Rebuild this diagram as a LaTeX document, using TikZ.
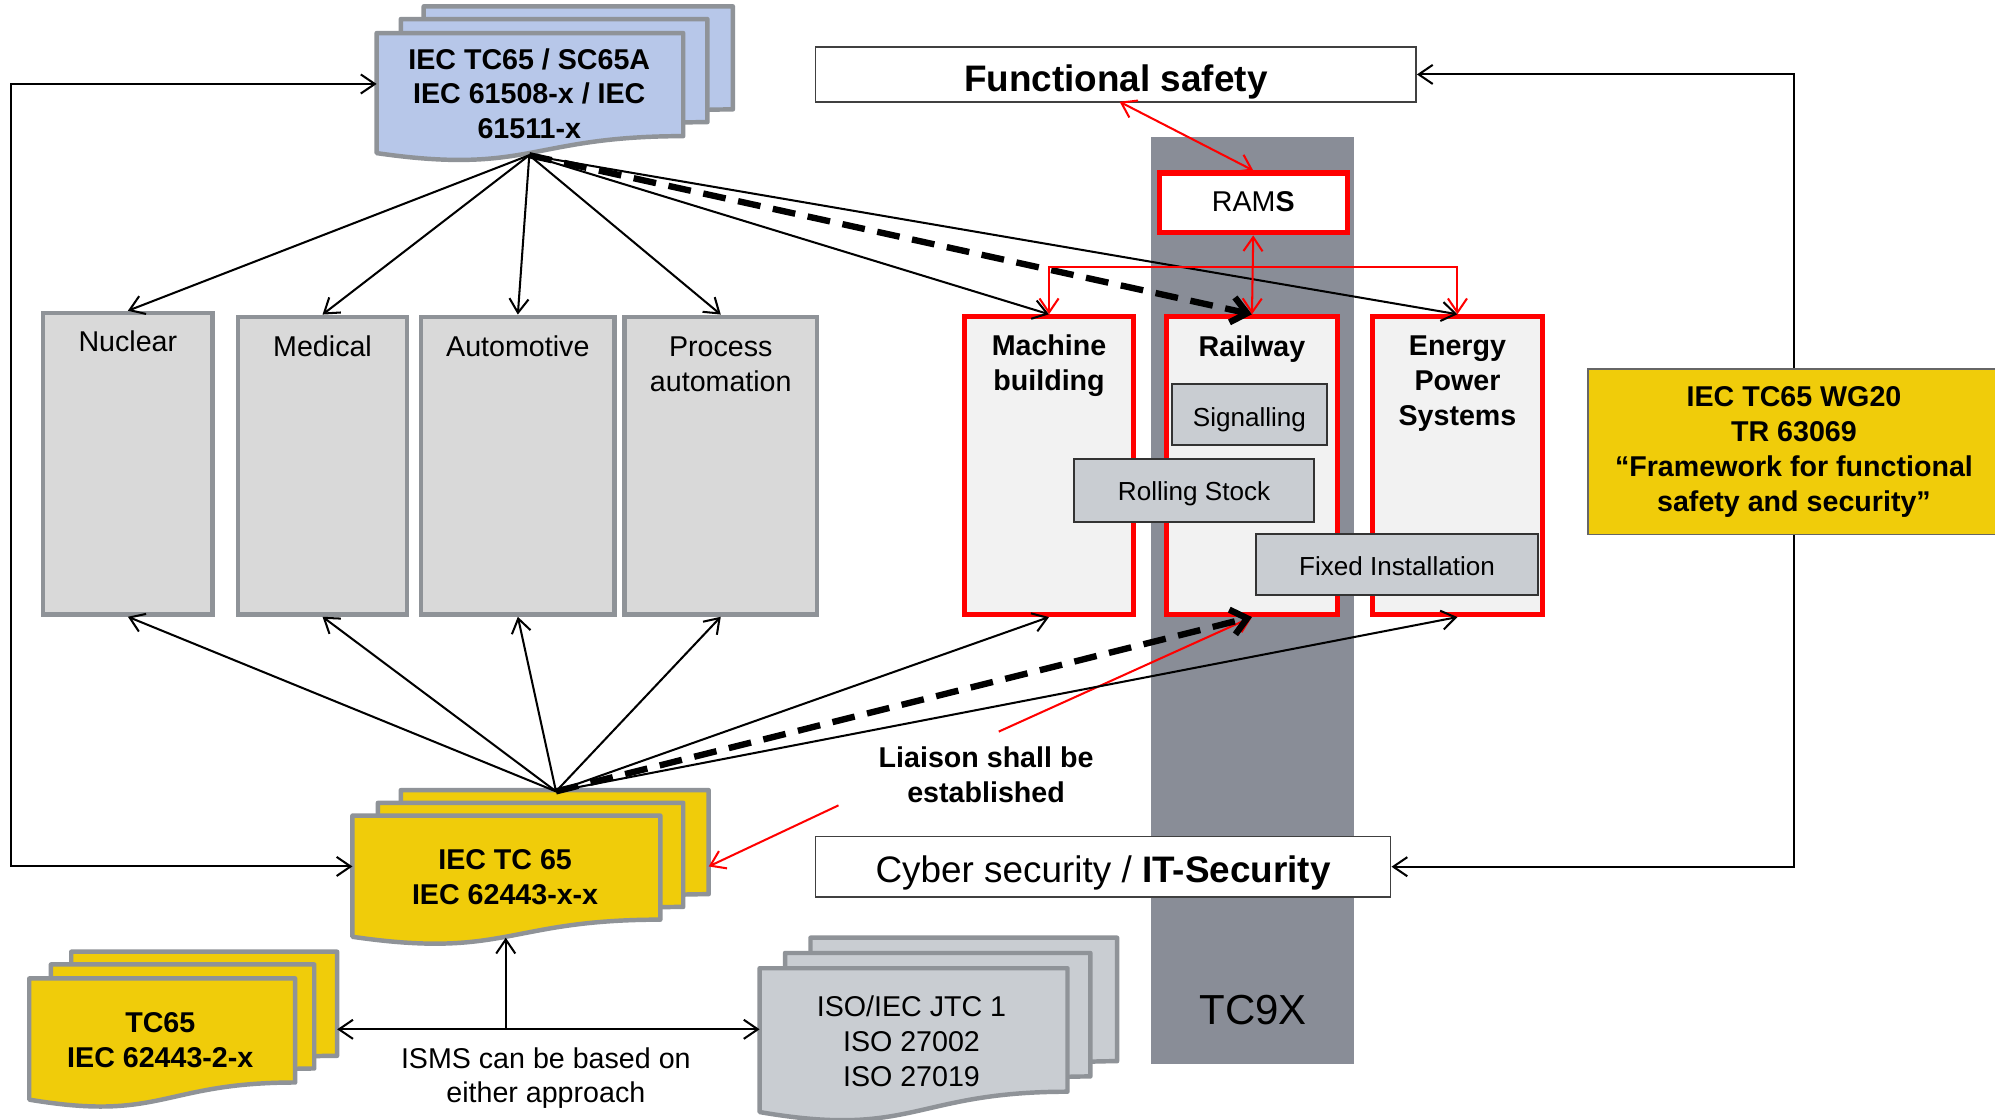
\documentclass[tikz,border=0pt]{standalone}
\usepackage{fontspec}
\setmainfont{Liberation Sans}
\usetikzlibrary{arrows.meta}
\definecolor{docgray}{HTML}{8F9398}
\definecolor{bluefill}{HTML}{B7C7E9}
\definecolor{yel}{HTML}{F0CC0A}
\definecolor{catfill}{HTML}{D9D9D9}
\definecolor{redfill}{HTML}{F2F2F2}
\definecolor{subfill}{HTML}{C9CDD2}
\definecolor{colgray}{HTML}{898D97}
\newcommand\szA{\fontsize{22.5}{27.4}\selectfont}
\newcommand\szS{\fontsize{20.5}{24}\selectfont}
\newcommand\szL{\fontsize{29}{34}\selectfont}
\newcommand\szC{\fontsize{33}{38}\selectfont}
% document shape: #1 style, #2 left, #3 top, #4 width, #5 height
\newcommand\docshp[5]{%
  \path[#1] (#2,#3) -- ({#2+#4},#3) -- ({#2+#4},{#3+0.802*#5})
    .. controls ({#2+0.5*#4},{#3+0.802*#5}) and ({#2+0.5*#4},{#3+1.107*#5}) ..
    (#2,{#3+0.934*#5}) -- cycle;}
\tikzset{
  myv/.tip={Straight Barb[length=11pt,width=15pt]},
  catbox/.style={draw=docgray, fill=catfill, line width=3.5pt, inner sep=0pt},
  redbox/.style={draw=red, fill=redfill, line width=4pt, inner sep=0pt},
  subbox/.style={draw=black!80, fill=subfill, line width=1.5pt, inner sep=0pt},
  plainbox/.style={draw=black!75, fill=white, line width=1.3pt, inner sep=0pt},
  ramsbox/.style={draw=red, fill=white, line width=4pt, inner sep=0pt},
  wgbox/.style={draw=black!60, fill=yel, line width=1pt, inner sep=0pt},
  docline/.style={draw=docgray, line width=3.5pt, line join=round},
  conn/.style={draw=black, line width=1.6pt, -myv},
  rconn/.style={draw=red, line width=1.6pt},
  dconn/.style={draw=black, line width=5pt, dash pattern=on 18pt off 10pt,
     -{Straight Barb[length=12pt,width=20pt]}},
  txt/.style={anchor=base, inner sep=0pt, align=center},
}
\begin{document}
\begin{tikzpicture}[x=1pt,y=-1pt]
\useasboundingbox (0,0) rectangle (1568,880);
\fill[white] (0,0) rectangle (1568,880);

% TC9X column
\node[fill=colgray, minimum width=159pt, minimum height=728pt, inner sep=0pt] (tc9x) at (984.5,472) {};
\node[txt, font=\szC] (tc9xt) at (985,805.3) {TC9X};

% top blue document stack (multi-line texts are placed by the baseline of their last line)
\docshp{docline, fill=bluefill}{333}{5}{243}{101}
\docshp{docline, fill=bluefill}{315}{15}{241}{101}
\docshp{docline, fill=bluefill}{296}{26}{241}{101}
\node[txt, font=\szA\bfseries] (bluet) at (416,109.1) {IEC TC65 / SC65A\\IEC 61508-x / IEC\\61511-x};

% yellow IEC TC 65 document stack
\docshp{docline, fill=yel}{315}{621}{242}{102}
\docshp{docline, fill=yel}{297}{631}{240}{102}
\docshp{docline, fill=yel}{277}{641}{242}{102}
\node[txt, font=\szA\bfseries] (yelt) at (397,711) {IEC TC 65\\IEC 62443-x-x};

% TC65 62443-2-x stack
\docshp{docline, fill=yel}{56}{748}{209}{102}
\docshp{docline, fill=yel}{40}{758}{207}{102}
\docshp{docline, fill=yel}{23}{769}{209}{102}
\node[txt, font=\szA\bfseries] (tc2t) at (126,838.7) {TC65\\IEC 62443-2-x};

% ISO stack
\docshp{docline, fill=subfill}{637}{737}{241}{121}
\docshp{docline, fill=subfill}{617}{749}{240}{121}
\docshp{docline, fill=subfill}{597}{761}{242}{121}
\node[txt, font=\szA] (isot) at (716.4,853.6) {ISO/IEC JTC 1\\ISO 27002\\ISO 27019};

% plain boxes
\node[plainbox, minimum width=472pt, minimum height=43pt] (fs) at (877,58.5) {};
\node[txt, font=\szL\bfseries] (fst) at (877,72.2) {Functional safety};
\node[plainbox, minimum width=452pt, minimum height=47.5pt] (cyb) at (867,681.2) {};
\node[txt, font=\szL] (cybt) at (867,693.7) {Cyber security / \textbf{IT-Security}};

% RAMS
\node[ramsbox, minimum width=148pt, minimum height=47pt] (rams) at (985,159.5) {};
\node[txt, font=\szA] (ramst) at (985,166.2) {RAM\textbf{S}};

% category boxes
\node[catbox, minimum width=133pt, minimum height=237pt] (nuc) at (100.5,364.5) {};
\node[catbox, minimum width=133pt, minimum height=234pt] (med) at (253.5,366) {};
\node[catbox, minimum width=152pt, minimum height=234pt] (aut) at (407,366) {};
\node[catbox, minimum width=151pt, minimum height=234pt] (pro) at (566.5,366) {};
\node[txt, font=\szA] (nuct) at (100.5,276.5) {Nuclear};
\node[txt, font=\szA] (medt) at (253.5,280) {Medical};
\node[txt, font=\szA] (autt) at (407,280) {Automotive};
\node[txt, font=\szA] (prot) at (566.5,307.4) {Process\\automation};

% red sector boxes
\node[redbox, minimum width=133pt, minimum height=234pt] (mac) at (824.5,366) {};
\node[redbox, minimum width=134pt, minimum height=234pt] (rai) at (984,366) {};
\node[redbox, minimum width=133pt, minimum height=234pt] (ene) at (1145.5,366) {};
\node[txt, font=\szA\bfseries] (mact) at (824.5,307.2) {Machine\\building};
\node[txt, font=\szA\bfseries] (rait) at (984,280) {Railway};
\node[txt, font=\szA\bfseries] (enet) at (1145.5,334.6) {Energy\\Power\\Systems};

% sub boxes
\node[subbox, minimum width=122pt, minimum height=48pt] (sig) at (982,326) {};
\node[txt, font=\szS] (sigt) at (982,335) {Signalling};
\node[subbox, minimum width=189pt, minimum height=49pt] (rol) at (938.5,385.5) {};
\node[txt, font=\szS] (rolt) at (938.5,393) {Rolling Stock};
\node[subbox, minimum width=222pt, minimum height=48pt] (fix) at (1098,444) {};
\node[txt, font=\szS] (fixt) at (1098,452.4) {Fixed Installation};

% WG20 box
\node[wgbox, minimum width=324pt, minimum height=130pt] (wg) at (1410,355) {};
\node[txt, font=\fontsize{22.5}{27.6}\selectfont\bfseries] (wgt) at (1410,402)
  {IEC TC65 WG20\\TR 63069\\“Framework for functional\\safety and security”};

% texts
\node[txt, font=\szA\bfseries] (liat) at (775,631) {Liaison shall be\\established};
\node[txt, font=\fontsize{22.5}{27}\selectfont] (ismst) at (429,866.5) {ISMS can be based on\\either approach};

% coordinates
\coordinate (bapex) at (416,122);
\coordinate (yapex) at (437,622);
\coordinate (bluein) at (296,66);
\coordinate (lfttop) at (9,66);
\coordinate (lftbot) at (9,681);
\coordinate (yelin) at (277,681);
\coordinate (tc2r) at (265,809);
\coordinate (isol) at (597,809);
\coordinate (ismsj) at (397.5,809);
\coordinate (yelbot) at (397.5,737);
\coordinate (fsbot) at (880,80);
\coordinate (liaA) at (785,575);
\coordinate (liaB) at (659,633);
\coordinate (yelr) at (557,681);

% black connectors from top stack
\foreach \t in {nuc,med,aut,pro,mac,ene} \draw[conn] (bapex) -- (\t.north);
\draw[dconn] (bapex) -- (rai.north);
% black connectors from IEC TC 65 stack
\draw[rconn, -myv] (liaA) -- (rai.south);
\foreach \t in {nuc,med,aut,pro,mac,ene} \draw[conn] (yapex) -- (\t.south);
\draw[dconn] (yapex) -- (rai.south);

% loops
\draw[conn, myv-myv] (bluein) -- (lfttop) -- (lftbot) -- (yelin);
\draw[conn] (wg.north) |- (fs.east);
\draw[conn] (wg.south) |- (cyb.east);
\draw[conn, myv-myv] (tc2r) -- (isol);
\draw[conn] (ismsj) -- (yelbot);

% red connectors
\draw[rconn, myv-myv] (fsbot) -- (rams.north);
\draw[rconn, myv-myv] (rams.south) -- (rai.north);
\draw[rconn, myv-myv] (mac.north) -- ++(0,-37) -| (ene.north);
\draw[rconn, -myv] (liaB) -- (yelr);
\end{tikzpicture}
\end{document}
